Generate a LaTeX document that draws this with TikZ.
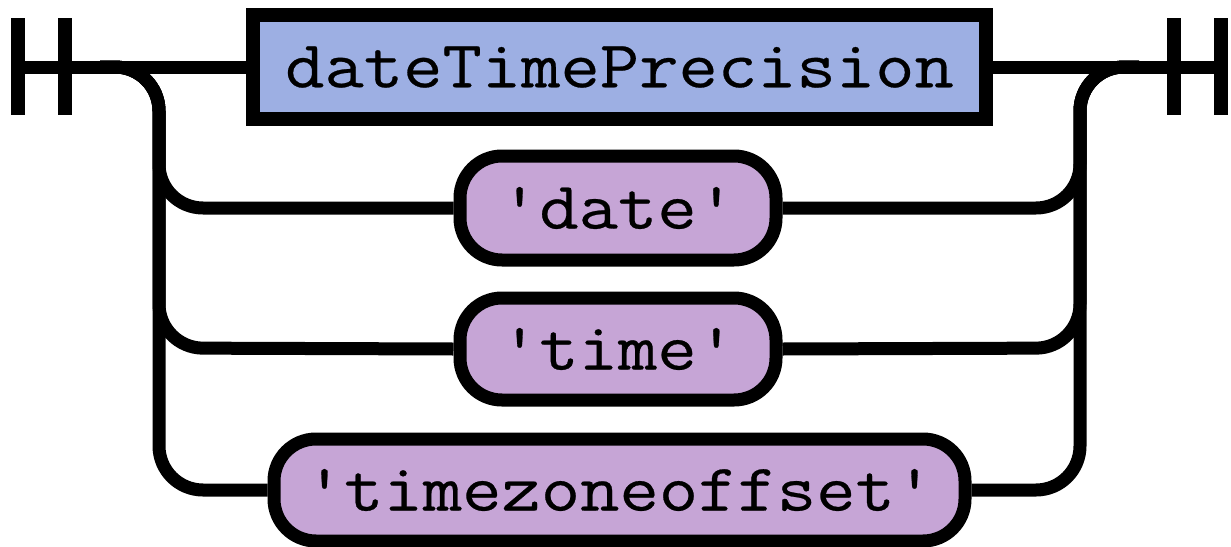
\documentclass[tikz,border=0pt]{standalone}
\usepackage{fontspec}
\newfontfamily\railmono[FakeStretch=1.14,FakeBold=0.4]{Latin Modern Mono}
\definecolor{ntblue}{HTML}{9DAFE3}
\definecolor{tpurple}{HTML}{C6A5D6}
\begin{document}
\begin{tikzpicture}[x=1pt,y=-1pt,
  rail/.style={line width=13pt,line cap=butt,line join=round},
  rc/.style={rail,rounded corners=44pt},
  nonterm/.style={draw,line width=14pt,fill=ntblue,rectangle,inner sep=0pt,
     font=\railmono\fontsize{67}{67}\selectfont},
  term/.style={draw,line width=13pt,fill=tpurple,rectangle,rounded corners=42pt,inner sep=0pt,
     font=\railmono\fontsize{67}{67}\selectfont}]
\useasboundingbox (0,0) rectangle (1231,546);
% nodes
\node[nonterm,minimum width=733pt,minimum height=104pt] (dtp) at (619.5,67) {dateTimePrecision};
\node[term,minimum width=316pt,minimum height=104pt] (date) at (618,208) {'date'};
\node[term,minimum width=316pt,minimum height=102pt] (time) at (618,349) {'time'};
\node[term,minimum width=691pt,minimum height=102pt] (tzo) at (619.5,490) {'timezoneoffset'};
% start / end bars
\coordinate (s1a) at (18,18); \coordinate (s1b) at (18,115);
\coordinate (s2a) at (65,18); \coordinate (s2b) at (65,115);
\coordinate (e1a) at (1174,18); \coordinate (e1b) at (1174,115);
\coordinate (e2a) at (1221,18); \coordinate (e2b) at (1221,115);
\draw[line width=14pt] (s1a) -- (s1b);
\draw[line width=14pt] (s2a) -- (s2b);
\draw[line width=14pt] (e1a) -- (e1b);
\draw[line width=14pt] (e2a) -- (e2b);
\coordinate (start) at (18,67);
\coordinate (end) at (1221,67);
\coordinate (lsplit) at (100,67);
\coordinate (rjoin) at (1139,67);
% main line
\draw[rail] (start) -- (dtp.west);
\draw[rail] (dtp.east) -- (end);
% left branches
\draw[rc] (lsplit) -| (159,208) -- (date.west);
\draw[rc] (lsplit) -| (159,348) -- (time.west);
\draw[rc] (lsplit) -| (159,490) -- (tzo.west);
% right branches
\draw[rc] (date.east) -- (1080,208) |- (rjoin);
\draw[rc] (time.east) -- (1080,348) |- (rjoin);
\draw[rc] (tzo.east) -- (1080,490) |- (rjoin);
\end{tikzpicture}
\end{document}
